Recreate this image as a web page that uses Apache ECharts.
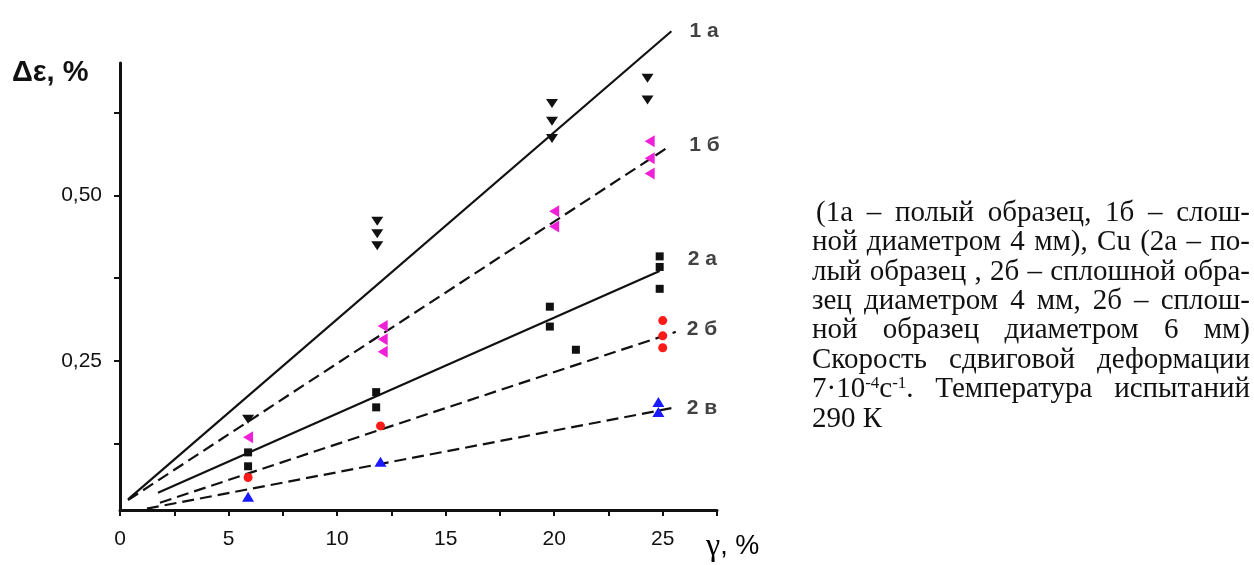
<!DOCTYPE html>
<html><head><meta charset="utf-8">
<script src="https://cdn.jsdelivr.net/npm/echarts@6/dist/echarts.min.js"></script>
<style>html,body{margin:0;padding:0;background:#fff}#c{width:1254px;height:565px}</style>
</head><body><div id="c"></div>
<script>
// ---- axis ticks / labels ----
const xTickLabels = [0, 5, 10, 15, 20, 25];
const xTicks = [0, 2.5, 5, 7.5, 10, 12.5, 15, 17.5, 20, 22.5, 25, 27.5];
const yTickLabels = [0.25, 0.5];
const yTicks = [0.125, 0.25, 0.375, 0.5, 0.625];

// ---- measured points [γ %, Δε %] ----
const pts1a = [[5.9,0.162],[11.85,0.461],[11.85,0.442],[11.85,0.424],[19.9,0.639],[19.9,0.612],[19.9,0.586],[24.3,0.677],[24.3,0.644]];
const pts1b = [[5.9,0.135],[12.1,0.303],[12.1,0.283],[12.1,0.264],[20.0,0.476],[20.0,0.453],[24.4,0.582],[24.4,0.556],[24.4,0.533]];
const pts2a = [[5.9,0.112],[5.9,0.091],[11.8,0.203],[11.8,0.180],[19.8,0.332],[19.8,0.302],[21.0,0.267],[24.86,0.408],[24.86,0.392],[24.86,0.359]];
const pts2b = [[5.9,0.074],[12.0,0.152],[25.0,0.311],[25.0,0.288],[25.0,0.270]];
const pts2c = [[5.9,0.045],[12.0,0.098],[24.8,0.188],[24.8,0.173]];

// ---- fitted straight lines (start, end) ----
const fit1a = [[0.37,0.041],[25.4,0.748]];
const fit1b = [[0.37,0.040],[25.3,0.574]];
const fit2a = [[1.75,0.051],[24.86,0.386]];
const fit2b = [[1.84,0.036],[25.6,0.294]];
const fit2c = [[1.24,0.027],[25.6,0.180]];
const lineNames = ['1 a', '1 б', '2 a', '2 б', '2 в'];

const yAxisName = 'Δε, %';
const captionLines = [
  '(1а – полый образец, 1б – слош-',
  'ной диаметром 4 мм), Cu (2а – по-',
  'лый образец , 2б – сплошной обра-',
  'зец диаметром 4 мм, 2б – сплош-',
  'ной образец диаметром 6 мм)',
  'Скорость сдвиговой деформации',
  '7·10^-4^с^-1^. Температура испытаний',
  '290 К'
];

// ---- styles ----
const fits = [fit1a, fit1b, fit2a, fit2b, fit2c];
const fitDash = ['solid', [12, 6], 'solid', [12, 6], [12, 6]];
const labelOffsets = [[18, 0], [20, -1], [28, -12], [11, -3], [11, 1]];

const chart = echarts.init(document.getElementById('c'), null, {renderer: 'canvas'});

const series = [];
fits.forEach((f, i) => {
  series.push({
    type: 'line', data: f, symbol: 'none', clip: false, silent: true, z: 2,
    lineStyle: {color: '#111', width: 2.2, type: fitDash[i]}
  });
  series.push({
    type: 'scatter', clip: false, symbolSize: 0, silent: true, z: 5,
    data: [f[f.length - 1]],
    label: {show: true, position: 'right', distance: labelOffsets[i][0], offset: [0, labelOffsets[i][1]],
      formatter: lineNames[i], color: '#111', fontFamily: 'Liberation Sans', fontSize: 21, fontWeight: 'bold'}
  });
});
const scat = (data, symbol, size, rot, color) => ({
  type: 'scatter', data, symbol, symbolSize: size, symbolRotate: rot, z: 4,
  itemStyle: {color, opacity: 1}
});
series.push(scat(pts1a, 'triangle', [12, 9], 180, '#111'));
series.push(scat(pts1b, 'triangle', [12, 10], 90, '#f020d8'));
series.push(scat(pts2a, 'rect', 8, 0, '#111'));
series.push(scat(pts2b, 'circle', 9, 0, '#ff1a1a'));
series.push(scat(pts2c, 'triangle', [12, 10], 0, '#1a1aff'));

// ---- justified caption ----
const mctx = document.createElement('canvas').getContext('2d');
function mw(t, fs) { mctx.font = fs + 'px "Liberation Serif"'; return mctx.measureText(t).width; }
const X0 = 812, X1 = 1250;
// font size chosen so that line 6 gets ~22px word gaps as in the reference
const fsCap = Math.max(26, Math.min(30, 394 * 100 / mw(captionLines[5].replace(/ /g, ''), 100)));
const supFs = Math.round(fsCap * 0.6);
function wordWidth(word) {
  const parts = word.split('^');
  let s = 0;
  parts.forEach((p, k) => { s += mw(p, k % 2 ? supFs : fsCap); });
  return s;
}
function wordRich(word) {
  const parts = word.split('^');
  return parts.map((p, k) => p ? ('{' + (k % 2 ? 's' : 'n') + '|' + p + '}') : '').join('');
}
const graphics = [];
captionLines.forEach((line, li) => {
  const words = line.split(' ');
  const ws = words.map(wordWidth);
  const total = ws.reduce((a, b) => a + b, 0);
  const start = li === 0 ? 816 : X0;
  const last = li === captionLines.length - 1;
  const gap = (!last && words.length > 1) ? (X1 - start - total) / (words.length - 1) : mw(' ', fsCap);
  let x = start;
  const baseline = 223 + 29.4 * li;
  words.forEach((wd, k) => {
    graphics.push({
      type: 'text', x: x, y: baseline - 0.34 * fsCap, silent: true,
      style: {
        text: wordRich(wd), fill: '#111', verticalAlign: 'middle', align: 'left',
        rich: {
          n: {fontFamily: 'Liberation Serif', fontSize: fsCap, color: '#111', lineHeight: fsCap, verticalAlign: 'bottom'},
          s: {fontFamily: 'Liberation Serif', fontSize: supFs, color: '#111', lineHeight: fsCap, verticalAlign: 'top'}
        }
      }
    });
    x += ws[k] + gap;
  });
});
graphics.push({
  type: 'text', x: 12, y: 73, silent: true,
  style: {text: yAxisName, fontFamily: 'Liberation Sans', fontWeight: 'bold', fontSize: 29, fill: '#111', verticalAlign: 'middle'}
});
graphics.push({
  type: 'text', x: 706, y: 547, silent: true,
  style: {text: '{g|γ}{p|, %}', verticalAlign: 'middle',
    rich: {g: {fontFamily: 'Liberation Serif', fontSize: 32, color: '#111'},
           p: {fontFamily: 'Liberation Sans', fontSize: 27, color: '#111'}}}
});

chart.setOption({
  animation: false,
  backgroundColor: '#fff',
  grid: {left: 120, right: 537, top: 63, bottom: 55, containLabel: false},
  xAxis: {
    type: 'value', min: 0, max: 27.5,
    axisLine: {show: true, onZero: false, lineStyle: {color: '#111', width: 3}},
    axisTick: {show: true, customValues: xTicks, length: 6, lineStyle: {color: '#111', width: 2}},
    axisLabel: {customValues: xTickLabels, margin: 19, color: '#111', fontFamily: 'Liberation Sans', fontSize: 21, showMaxLabel: true},
    splitLine: {show: false}
  },
  yAxis: {
    type: 'value', min: 0.025, max: 0.70,
    axisLine: {show: true, onZero: false, lineStyle: {color: '#111', width: 3}},
    axisTick: {show: true, customValues: yTicks, length: 6, lineStyle: {color: '#111', width: 2}},
    axisLabel: {customValues: yTickLabels, margin: 18, color: '#111', fontFamily: 'Liberation Sans', fontSize: 21,
      formatter: v => v.toFixed(2).replace('.', ',')},
    splitLine: {show: false}
  },
  graphic: graphics,
  series: series
});
</script>
</body></html>
